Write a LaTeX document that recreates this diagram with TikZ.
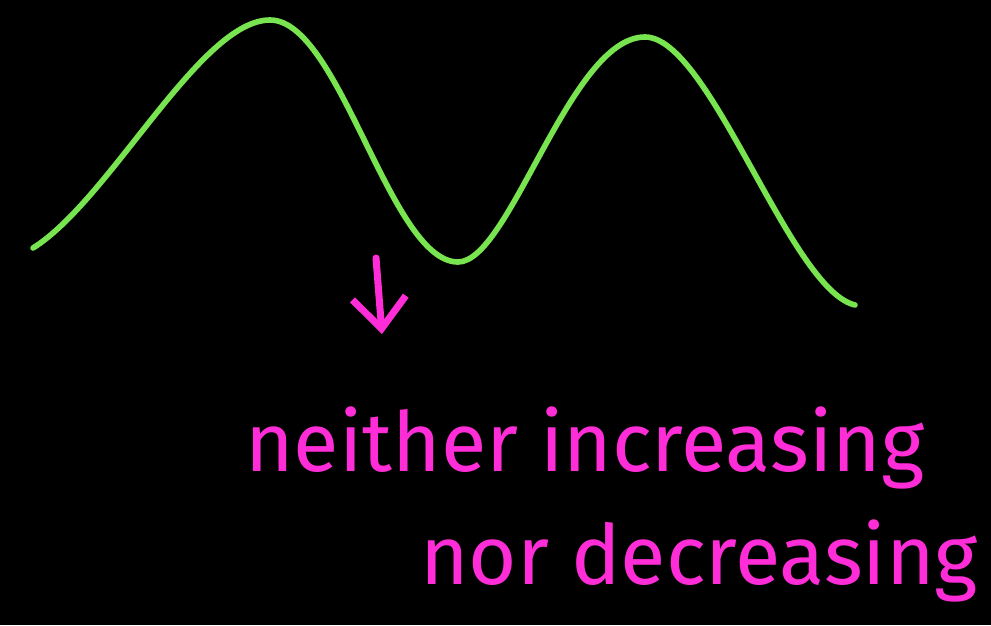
\documentclass[tikz,border=0pt]{standalone}
\usepackage{fontspec}
\setmainfont{Fira Sans}
\usetikzlibrary{arrows.meta,positioning}
\definecolor{curvegreen}{RGB}{120,228,80}
\definecolor{inkpink}{RGB}{255,45,215}

\begin{document}
\begin{tikzpicture}[x=0.025cm, y=-0.025cm,
    wave/.style={curvegreen, line width=4pt, line cap=round},
    pointer/.style={inkpink, line width=5pt, line cap=round, -{Straight Barb[length=22pt, width=38pt, line width=5pt]}},
    note/.style={inkpink, anchor=west, inner sep=0pt, font=\fontsize{59}{66}\selectfont}]
    \fill[black] (0,0) rectangle (991,625);
    \useasboundingbox (0,0) rectangle (991,625);

    % the wave
    \draw[wave] (33,248) .. controls (110,200) and (200,20) .. (270,20)
        .. controls (340,20) and (390,262) .. (458,262)
        .. controls (510,262) and (570,37) .. (645,37)
        .. controls (710,37) and (790,290) .. (855,305);

    % arrow and label
    \coordinate (arrowtop) at (376,258);
    \coordinate (arrowtip) at (382,334);
    \draw[pointer] (arrowtop) -- (arrowtip);

    \node[note] (lineone) at (245,448) {neither increasing};
    \node[note] (linetwo) at (420,561) {nor decreasing};
\end{tikzpicture}
\end{document}
